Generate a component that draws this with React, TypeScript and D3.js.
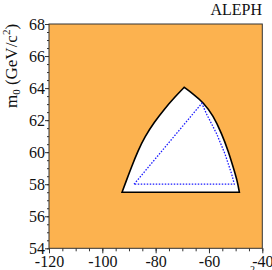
import React, { useEffect, useRef } from 'react';
import * as d3 from 'd3';

// excluded region boundary (mA, m0): left arc then right arc, sharing the apex
const leftX = [-92.6, -91.0, -89.1, -86.6, -84.1, -80.4, -76.6, -72.9, -69.3];
const leftY = [57.5, 58.22, 59.06, 60.09, 60.95, 61.9, 62.72, 63.43, 64.05];
const rightX = [-69.3, -65.9, -62.1, -58.4, -55.2, -52.8, -50.9, -49.4, -48.6];
const rightY = [64.05, 63.63, 63.11, 62.28, 61.14, 60.09, 59.06, 58.22, 57.5];
// expected limit (dotted)
const expectedX = [-88.1, -62.7, -60.9, -57.1, -54.0, -51.5, -50.5, -88.1];
const expectedY = [58.0, 63.05, 62.38, 61.14, 59.89, 58.64, 58.0, 58.0];

const xTicks = [-120, -100, -80, -60, -40];
const yTicks = [54, 56, 58, 60, 62, 64, 66, 68];

const W = 272, H = 270;
const margin = { left: 49, top: 24, right: 9.7, bottom: 21.7 };

export default function App() {
  const ref = useRef<SVGSVGElement>(null);

  useEffect(() => {
    const svg = d3.select(ref.current);
    svg.selectAll('*').remove();
    const x = d3.scaleLinear().domain([-120, -40]).range([margin.left, W - margin.right]);
    const y = d3.scaleLinear().domain([54, 68]).range([H - margin.bottom, margin.top]);
    const font = '"Liberation Serif", "Times New Roman", serif';

    // orange allowed area
    svg.append('rect')
      .attr('x', x(-120)).attr('y', y(68))
      .attr('width', x(-40) - x(-120)).attr('height', y(54) - y(68))
      .attr('fill', '#fcb24f');

    const arc = (xs: number[], ys: number[]) =>
      d3.line<number>().x(i => x(xs[i])).y(i => y(ys[i])).curve(d3.curveBasis)(d3.range(xs.length)) as string;
    const pathD = arc(leftX, leftY) + arc(rightX, rightY).replace(/^M/, 'L') + 'Z';
    svg.append('path').attr('d', pathD).attr('fill', 'white')
      .attr('stroke', 'black').attr('stroke-width', 1.6).attr('stroke-linejoin', 'miter');

    const eLine = d3.line<number>().x(i => x(expectedX[i])).y(i => y(expectedY[i]));
    svg.append('path').attr('d', eLine(d3.range(expectedX.length)))
      .attr('fill', 'none').attr('stroke', '#1a1aff').attr('stroke-width', 1.3)
      .attr('stroke-dasharray', '1.5,1.5');

    // frame
    svg.append('rect')
      .attr('x', x(-120)).attr('y', y(68))
      .attr('width', x(-40) - x(-120)).attr('height', y(54) - y(68))
      .attr('fill', 'none').attr('stroke', '#333').attr('stroke-width', 1);

    // x axis
    const gx = svg.append('g').attr('transform', `translate(0,${y(54)})`)
      .call(d3.axisBottom(x).tickValues(xTicks).tickSize(5).tickFormat(d => `${d}`));
    gx.select('.domain').remove();
    gx.selectAll('line').attr('stroke', '#333');
    gx.selectAll('text').attr('font-family', font).attr('font-size', 16).attr('fill', '#111').attr('dy', '0.72em').attr('y', 7);
    const gxm = svg.append('g').attr('transform', `translate(0,${y(54)})`)
      .call(d3.axisBottom(x).ticks(16).tickSize(3).tickFormat(() => ''));
    gxm.select('.domain').remove();
    gxm.selectAll('line').attr('stroke', '#333');

    // y axis
    const gy = svg.append('g').attr('transform', `translate(${x(-120)},0)`)
      .call(d3.axisLeft(y).tickValues(yTicks).tickSize(4).tickFormat(d => `${d}`));
    gy.select('.domain').remove();
    gy.selectAll('line').attr('stroke', '#333');
    gy.selectAll('text').attr('font-family', font).attr('font-size', 16).attr('fill', '#111').attr('x', -4);
    const gym = svg.append('g').attr('transform', `translate(${x(-120)},0)`)
      .call(d3.axisLeft(y).ticks(28).tickSize(2).tickFormat(() => ''));
    gym.select('.domain').remove();
    gym.selectAll('line').attr('stroke', '#333');

    // y label
    const yl = svg.append('text')
      .attr('transform', `translate(17,66) rotate(-90)`)
      .attr('text-anchor', 'middle').attr('font-family', font).attr('font-size', 17).attr('fill', '#111');
    yl.append('tspan').text('m');
    yl.append('tspan').attr('font-size', 11).attr('dy', 3).text('0');
    yl.append('tspan').attr('dy', -3).text(' (GeV/c');
    yl.append('tspan').attr('font-size', 11).attr('dy', -7).text('2');
    yl.append('tspan').attr('dy', 7).text(')');

    // clipped superscript from x title
    svg.append('text').attr('x', 250).attr('y', 273).attr('font-family', font)
      .attr('font-size', 10).attr('fill', '#111').text('2');

    svg.append('text').attr('x', W - 10).attr('y', 15).attr('text-anchor', 'end')
      .attr('font-family', font).attr('font-size', 16).attr('fill', '#111').text('ALEPH');
  }, []);

  return (
    <svg ref={ref} width={W} height={H}
      style={{ position: 'absolute', left: 0, top: 0, background: 'white' }} />
  );
}
